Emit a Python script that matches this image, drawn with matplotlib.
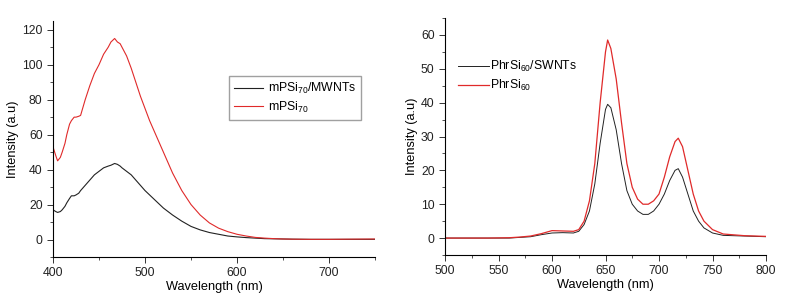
import matplotlib.pyplot as plt
import numpy as np
from matplotlib.ticker import MultipleLocator

plt.rcParams['font.family'] = ['Liberation Sans', 'DejaVu Sans']
plt.rcParams['font.size'] = 8.8

# LEFT PANEL: mPSi70 / MWNTs
wl_left = [400, 403, 405, 408, 410, 413, 415, 418, 420, 423, 425, 428, 430, 435, 440, 445, 450, 455, 460, 463,
           465, 467, 470, 473, 475, 480, 485, 490, 495, 500, 505, 510, 520, 530, 540, 550, 560, 570, 580,
           590, 600, 610, 620, 630, 640, 650, 660, 680, 700, 720, 750]
mws_left = [17, 16, 15.5, 16, 17, 19, 21, 23.5, 25, 25, 25.5, 26.5, 28, 31, 34, 37, 39, 41, 42, 42.5,
            43, 43.5, 43, 42, 41, 39, 37, 34, 31, 28, 25.5, 23, 18, 14, 10.5, 7.5, 5.5, 4, 3,
            2, 1.5, 1.1, 0.8, 0.5, 0.4, 0.3, 0.2, 0.1, 0.1, 0.1, 0.1]
red_left = [53, 48, 45, 47, 50, 55, 60, 66, 68, 70, 70, 70.5, 71, 80, 88, 95, 100, 106, 110, 113,
            114, 115, 113, 112, 110, 105, 98, 90, 82, 75, 68, 62, 50, 38, 28, 20, 14, 9.5, 6.5,
            4.5, 3, 2, 1.2, 0.8, 0.5, 0.3, 0.2, 0.1, 0.1, 0.2, 0.3]

# RIGHT PANEL: PhrSi60 / SWNTs
wl_right = [500, 540, 560, 570, 580, 590, 600, 610, 620, 625, 630, 635, 640, 645, 650, 652, 655, 660,
            665, 670, 675, 680, 685, 690, 695, 700, 705, 710, 715, 718, 722, 727, 732, 737, 742,
            750, 760, 780, 800]
sw_right = [0, 0, 0, 0.2, 0.4, 1.0, 1.5, 1.6, 1.5, 2, 4, 8, 16, 28, 38, 39.5, 38.5, 32,
            22, 14, 10, 8, 7, 7, 8, 10, 13, 17, 20, 20.5, 18, 13, 8, 5, 3,
            1.5, 0.8, 0.6, 0.4]
red_right = [0, 0, 0.1, 0.3, 0.6, 1.3, 2.2, 2.1, 2.0, 2.5, 5, 11, 22, 40, 55, 58.5, 56, 47,
             34, 22, 15, 11.5, 10, 10, 11, 13, 18, 24, 28.5, 29.5, 27, 20, 13, 8, 5,
             2.5, 1.2, 0.7, 0.5]

black = '#222222'
red = '#e02a2a'

fig = plt.figure(figsize=(7.95, 3.03), dpi=100)
ax1 = fig.add_axes([53/795, 1-257/303, 322/795, 236/303])
ax2 = fig.add_axes([445/795, 1-255/303, 321/795, 237/303])

ax1.plot(wl_left, mws_left, color=black, lw=0.8, label=r'mPSi$_{\mathregular{70}}$/MWNTs')
ax1.plot(wl_left, red_left, color=red, lw=0.8, label=r'mPSi$_{\mathregular{70}}$')
ax1.set_xlim(400, 750)
ax1.set_ylim(-10, 125)
ax1.xaxis.set_major_locator(MultipleLocator(100))
ax1.xaxis.set_minor_locator(MultipleLocator(50))
ax1.yaxis.set_major_locator(MultipleLocator(20))
ax1.yaxis.set_minor_locator(MultipleLocator(10))
ax1.legend(loc='upper left', bbox_to_anchor=(176/322, 181/236), frameon=True, fancybox=False,
           edgecolor='#888888', handlelength=2.4, borderpad=0.4, labelspacing=0.3,
           handletextpad=0.4, borderaxespad=0)

ax2.plot(wl_right, sw_right, color=black, lw=0.7, label=r'PhrSi$_{\mathregular{60}}$/SWNTs')
ax2.plot(wl_right, red_right, color=red, lw=0.9, label=r'PhrSi$_{\mathregular{60}}$')
ax2.set_xlim(500, 800)
ax2.set_ylim(-5, 65)
ax2.xaxis.set_major_locator(MultipleLocator(50))
ax2.xaxis.set_minor_locator(MultipleLocator(25))
ax2.yaxis.set_major_locator(MultipleLocator(10))
ax2.yaxis.set_minor_locator(MultipleLocator(5))
ax2.legend(loc='upper left', bbox_to_anchor=(13/321, 196/237), frameon=False,
           handlelength=2.5, borderpad=0, labelspacing=0.35, handletextpad=0.1, borderaxespad=0)

for ax in (ax1, ax2):
    ax.spines['top'].set_visible(False)
    ax.spines['right'].set_visible(False)
    ax.tick_params(which='major', direction='out', length=4, width=0.7, colors='#333333',
                   labelcolor='#222222', labelsize=8.8)
    ax.tick_params(which='minor', direction='out', length=2, width=0.6, colors='#333333')
    ax.set_xlabel('Wavelength (nm)', labelpad=1, fontsize=9.2)
    ax.set_ylabel('Intensity (a.u)', labelpad=2, fontsize=9.2)
    for s in ax.spines.values():
        s.set_linewidth(0.8)

fig.savefig('out.png', dpi=100)
